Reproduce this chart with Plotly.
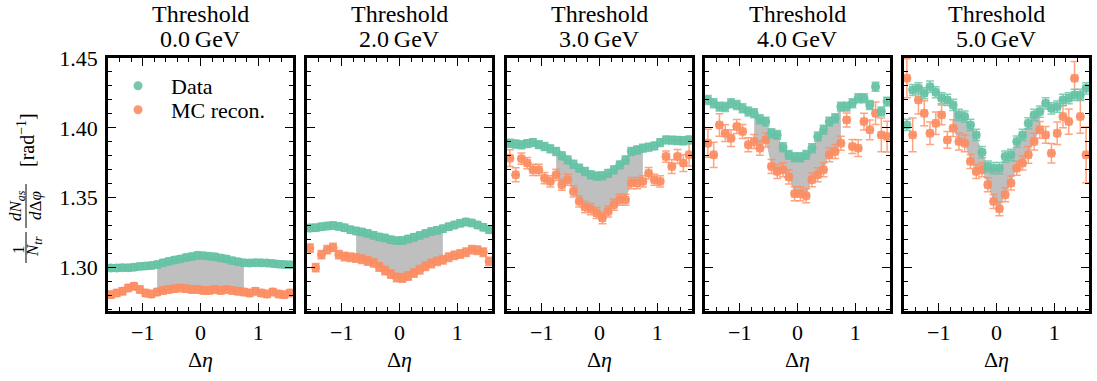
import plotly.graph_objects as go

# ---------------- data ----------------
eta = [round(-1.55 + 0.1 * i, 2) for i in range(32)]
eta_halfbin = 0.05
thresholds = ["0.0", "2.0", "3.0", "4.0", "5.0"]

data_0 = [1.2998, 1.2998, 1.3000, 1.2999, 1.3003, 1.3009, 1.3012, 1.3015, 1.3022, 1.3035, 1.3045, 1.3055,
          1.3062, 1.3072, 1.3080, 1.3088, 1.3086, 1.3082, 1.3078, 1.3070, 1.3062, 1.3050, 1.3042, 1.3035,
          1.3033, 1.3036, 1.3035, 1.3033, 1.3030, 1.3025, 1.3022, 1.3021]
mc_0 = [1.2807, 1.2819, 1.2831, 1.2855, 1.2867, 1.2843, 1.2819, 1.2812, 1.2826, 1.2836, 1.2843, 1.2850,
        1.2855, 1.2850, 1.2843, 1.2843, 1.2836, 1.2836, 1.2843, 1.2836, 1.2843, 1.2836, 1.2831, 1.2826,
        1.2819, 1.2831, 1.2819, 1.2812, 1.2826, 1.2812, 1.2807, 1.2819]

data_2 = [1.3284, 1.3286, 1.3292, 1.3298, 1.3302, 1.3295, 1.3285, 1.3272, 1.3262, 1.3255, 1.3245, 1.3232,
          1.3220, 1.3212, 1.3200, 1.3193, 1.3195, 1.3205, 1.3218, 1.3231, 1.3245, 1.3258, 1.3268, 1.3279,
          1.3292, 1.3305, 1.3318, 1.3326, 1.3320, 1.3305, 1.3290, 1.3271]
mc_2 = [1.3140, 1.3000, 1.3093, 1.3129, 1.3145, 1.3093, 1.3080, 1.3075, 1.3069, 1.3060, 1.3048, 1.3034,
        1.3005, 1.2979, 1.2955, 1.2930, 1.2926, 1.2940, 1.2962, 1.2985, 1.3010, 1.3030, 1.3045, 1.3057,
        1.3075, 1.3088, 1.3098, 1.3110, 1.3129, 1.3125, 1.3110, 1.3045]

data_3 = [1.3890, 1.3885, 1.3879, 1.3888, 1.3895, 1.3880, 1.3867, 1.3850, 1.3831, 1.3800, 1.3771, 1.3740,
          1.3712, 1.3688, 1.3664, 1.3655, 1.3657, 1.3675, 1.3700, 1.3735, 1.3770, 1.3831, 1.3842, 1.3855,
          1.3862, 1.3871, 1.3895, 1.3914, 1.3912, 1.3910, 1.3908, 1.3914]
mc_3 = [1.3783, 1.3664, 1.3780, 1.3748, 1.3700, 1.3700, 1.3640, 1.3617, 1.3664, 1.3593, 1.3629, 1.3545,
        1.3474, 1.3433, 1.3419, 1.3391, 1.3355, 1.3402, 1.3450, 1.3486, 1.3486, 1.3605, 1.3605, 1.3617,
        1.3676, 1.3629, 1.3617, 1.3795, 1.3724, 1.3795, 1.3748, 1.3807]

data_4 = [1.4200, 1.4176, 1.4152, 1.4150, 1.4176, 1.4164, 1.4140, 1.4117, 1.4105, 1.4062, 1.4045, 1.3962,
          1.3950, 1.3862, 1.3807, 1.3790, 1.3790, 1.3807, 1.3855, 1.3938, 1.3986, 1.4045, 1.4069, 1.4152,
          1.4152, 1.4176, 1.4212, 1.4212, 1.4164, 1.4295, 1.4117, 1.4188]
mc_4 = [1.3890, 1.3807, 1.4021, 1.3962, 1.3926, 1.4010, 1.3974, 1.3879, 1.3902, 1.3855, 1.3914, 1.3724,
        1.3688, 1.3700, 1.3648, 1.3529, 1.3529, 1.3514, 1.3629, 1.3664, 1.3700, 1.3807, 1.3831, 1.3890,
        1.4057, 1.3867, 1.3855, 1.4045, 1.3986, 1.4105, 1.3950, 1.3938]

data_5 = [1.4021, 1.4271, 1.4283, 1.4248, 1.4295, 1.4255, 1.4212, 1.4200, 1.4164, 1.4093, 1.4081, 1.4021,
          1.3950, 1.3826, 1.3724, 1.3712, 1.3712, 1.3795, 1.3807, 1.3902, 1.3950, 1.4033, 1.4093, 1.4117,
          1.4176, 1.4140, 1.4152, 1.4200, 1.4212, 1.4236, 1.4236, 1.4283]
mc_5 = [1.4355, 1.3950, 1.4200, 1.4105, 1.3962, 1.4033, 1.4093, 1.3914, 1.3998, 1.3902, 1.3890, 1.3760,
        1.3688, 1.3700, 1.3593, 1.3474, 1.3421, 1.3521, 1.3605, 1.3712, 1.3748, 1.3807, 1.3902, 1.3986,
        1.3950, 1.3819, 1.3962, 1.4081, 1.4045, 1.4355, 1.4081, 1.3807]

data_err = [0.0022, 0.0025, 0.0028, 0.0032, 0.0040]
mc_err_0 = [0.0025] * 32
mc_err_2 = [0.0030] * 32
mc_err_3 = [0.006, 0.005, 0.004, 0.004, 0.004, 0.004, 0.004, 0.004, 0.004, 0.004, 0.004, 0.004,
            0.004, 0.004, 0.004, 0.004, 0.004, 0.004, 0.004, 0.004, 0.004, 0.004, 0.004, 0.004,
            0.004, 0.004, 0.004, 0.004, 0.005, 0.005, 0.006, 0.008]
mc_err_4 = [0.010, 0.009, 0.008, 0.006, 0.006, 0.005, 0.005, 0.005, 0.005, 0.005, 0.005, 0.005,
            0.005, 0.005, 0.005, 0.005, 0.005, 0.005, 0.005, 0.005, 0.005, 0.005, 0.005, 0.005,
            0.005, 0.005, 0.006, 0.006, 0.007, 0.008, 0.012, 0.011]
mc_err_5 = [0.014, 0.012, 0.010, 0.009, 0.008, 0.008, 0.007, 0.006, 0.006, 0.006, 0.006, 0.005,
            0.005, 0.005, 0.005, 0.005, 0.005, 0.005, 0.005, 0.005, 0.005, 0.006, 0.006, 0.006,
            0.006, 0.007, 0.008, 0.008, 0.009, 0.012, 0.012, 0.020]

data_sets = [data_0, data_2, data_3, data_4, data_5]
mc_sets = [mc_0, mc_2, mc_3, mc_4, mc_5]
mc_errs = [mc_err_0, mc_err_2, mc_err_3, mc_err_4, mc_err_5]
band_limit = 0.75

# ---------------- style ----------------
C_DATA = "rgba(102,194,165,0.9)"
C_DATA_ERR = "rgba(102,194,165,0.8)"
C_MC = "rgba(252,141,98,0.9)"
C_MC_ERR = "rgba(252,141,98,0.8)"
C_BAND = "#bfbfbf"
FONT = "Liberation Serif"

W, H = 1097, 381
L, R, T, B = 108, 8, 58, 70
pw = W - L - R   # 981
ph = H - T - B   # 253
starts = [0, 199, 399, 597, 796]
panel_w = 185


def px(xs):
    return (xs - L) / pw


def py(ys):
    return (H - B - ys) / ph


fig = go.Figure()

for k in range(5):
    xa = "x" if k == 0 else f"x{k+1}"
    ya = "y" if k == 0 else f"y{k+1}"
    d = data_sets[k]
    m = mc_sets[k]
    sel = [i for i, e in enumerate(eta) if abs(e) <= band_limit + 1e-9]
    band_x = [eta[i] for i in sel]
    band_d = [d[i] for i in sel]
    band_m = [m[i] for i in sel]
    fig.add_trace(go.Scatter(x=band_x, y=band_m, mode="lines", line=dict(width=0, color=C_BAND),
                             showlegend=False, hoverinfo="skip", xaxis=xa, yaxis=ya))
    fig.add_trace(go.Scatter(x=band_x, y=band_d, mode="lines", line=dict(width=0, color=C_BAND),
                             fill="tonexty", fillcolor=C_BAND,
                             showlegend=False, hoverinfo="skip", xaxis=xa, yaxis=ya))
    fig.add_trace(go.Scatter(
        x=eta, y=m, mode="markers", name="MC recon.", showlegend=(k == 0), legend="legend2",
        marker=dict(color=C_MC, size=9, symbol="circle"),
        error_y=dict(type="data", array=mc_errs[k], color=C_MC_ERR, thickness=1.5, width=4),
        error_x=dict(type="constant", value=eta_halfbin, color=C_MC_ERR, thickness=1.5, width=4),
        xaxis=xa, yaxis=ya))
    fig.add_trace(go.Scatter(
        x=eta, y=d, mode="markers", name="Data", showlegend=(k == 0), legend="legend",
        marker=dict(color=C_DATA, size=9, symbol="circle"),
        error_y=dict(type="constant", value=data_err[k], color=C_DATA_ERR, thickness=1.5, width=4),
        error_x=dict(type="constant", value=eta_halfbin, color=C_DATA_ERR, thickness=1.5, width=4),
        xaxis=xa, yaxis=ya))

    x0 = starts[k] / pw
    x1 = (starts[k] + panel_w) / pw
    axkey = "xaxis" if k == 0 else f"xaxis{k+1}"
    aykey = "yaxis" if k == 0 else f"yaxis{k+1}"
    fig.layout[axkey] = dict(
        domain=[x0, x1], anchor=ya, range=[-1.6, 1.6],
        tickvals=[-1, 0, 1], ticktext=["\u22121", "0", "1"],
        ticks="inside", ticklen=8, tickwidth=1.3, tickcolor="black",
        minor=dict(dtick=0.2, tick0=0, ticks="inside", ticklen=4, tickwidth=1, tickcolor="black"),
        showline=True, linewidth=2.5, linecolor="black", mirror="allticks",
        showgrid=False, zeroline=False, ticklabelstandoff=0,
        tickfont=dict(size=22, family=FONT, color="black"),
        title=dict(text="\u0394<i>\u03b7</i>", font=dict(size=22, family=FONT, color="black"), standoff=8),
    )
    fig.layout[aykey] = dict(
        domain=[0, 1], anchor=xa, range=[1.269, 1.45],
        tick0=1.30, dtick=0.05, tickformat=".2f", showticklabels=(k == 0),
        ticks="inside", ticklen=8, tickwidth=1.3, tickcolor="black",
        minor=dict(dtick=0.01, ticks="inside", ticklen=4, tickwidth=1, tickcolor="black"),
        showline=True, linewidth=2.5, linecolor="black", mirror="allticks",
        showgrid=False, zeroline=False, ticklabelstandoff=3,
        tickfont=dict(size=22, family=FONT, color="black"),
    )
    cx = (starts[k] + panel_w / 2) / pw
    fig.add_annotation(text="Threshold", x=cx, y=py(14), xref="paper", yref="paper",
                       showarrow=False, xanchor="center", yanchor="middle",
                       font=dict(size=24, family=FONT, color="black"))
    fig.add_annotation(text=f"{thresholds[k]}\u2009GeV", x=cx, y=py(39), xref="paper", yref="paper",
                       showarrow=False, xanchor="center", yanchor="middle",
                       font=dict(size=24, family=FONT, color="black"))

# y-axis label built from rotated pieces: 1/N_tr dN_as/dΔφ [rad^-1]
ylab = [
    ("1", 18, 250, 17),
    ("<i>N</i><sub><i>tr</i></sub>", 34, 247, 17),
    ("<i>dN</i><sub><i>as</i></sub>", 17, 206, 17),
    ("<i>d</i>\u0394<i>\u03c6</i>", 35, 206, 17),
    ("[rad<sup>\u22121</sup>]", 26, 140, 20),
]
for txt, xx, yy, fs in ylab:
    fig.add_annotation(text=txt, x=px(xx), y=py(yy), xref="paper", yref="paper", showarrow=False,
                       textangle=-90, xanchor="center", yanchor="middle",
                       font=dict(size=fs, family=FONT, color="black"))
for ya0, ya1 in [(232, 263), (184, 228)]:
    fig.add_shape(type="line", xref="paper", yref="paper", x0=px(26), x1=px(26), y0=py(ya0), y1=py(ya1),
                  line=dict(color="black", width=1))

legend_common = dict(xanchor="left", yanchor="middle", bgcolor="rgba(0,0,0,0)",
                     font=dict(size=22, family=FONT, color="black"), itemwidth=56)
fig.update_layout(
    width=W, height=H,
    margin=dict(l=L, r=R, t=T, b=B, autoexpand=False),
    paper_bgcolor="white", plot_bgcolor="white",
    font=dict(family=FONT, color="black", size=22),
    legend=dict(x=px(105), y=py(86), **legend_common),
    legend2=dict(x=px(105), y=py(110), **legend_common),
)

# remove the default 8px page margin so the figure starts at the window corner
fig.write_html("out.html", config={"displayModeBar": False},
               post_script="document.body.style.margin='0px';")
